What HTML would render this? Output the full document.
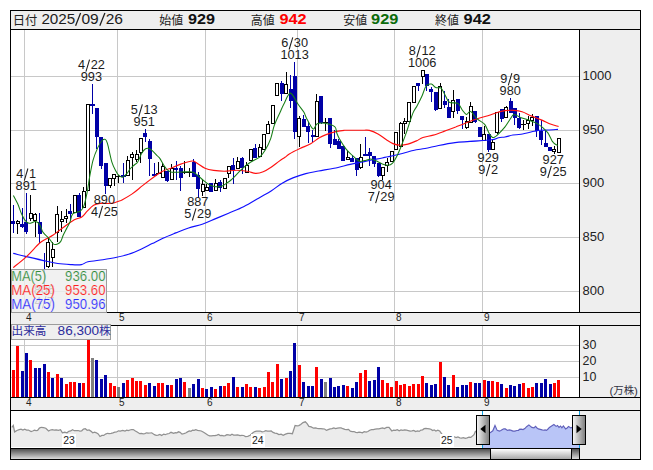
<!DOCTYPE html>
<html><head><meta charset="utf-8"><title>chart</title>
<style>html,body{margin:0;padding:0;background:#fff;}svg{display:block}text{font-family:"Liberation Sans", sans-serif;}</style>
</head><body>
<svg width="653" height="470" viewBox="0 0 653 470" font-family='"Liberation Sans", sans-serif'>
<defs>
<linearGradient id="trk" x1="0" y1="0" x2="0" y2="1"><stop offset="0" stop-color="#505050"/><stop offset="1" stop-color="#dcdcdc"/></linearGradient>
<linearGradient id="thm" x1="0" y1="0" x2="0" y2="1"><stop offset="0" stop-color="#ffffff"/><stop offset="1" stop-color="#a8a8a8"/></linearGradient>
<linearGradient id="hnd" x1="0" y1="0" x2="1" y2="0"><stop offset="0" stop-color="#f4f4f4"/><stop offset="1" stop-color="#808080"/></linearGradient>
<clipPath id="lg"><rect x="12" y="270" width="94" height="42"/></clipPath>
<clipPath id="cm"><rect x="11" y="30" width="568" height="282"/></clipPath>
</defs>
<g shape-rendering="crispEdges">
<rect x="0" y="0" width="653" height="470" fill="#fff" />
<rect x="10" y="10" width="631" height="450" fill="#000" />
<rect x="11" y="11" width="629" height="448" fill="#eeeeee" />
<rect x="10" y="29" width="631" height="1" fill="#000" />
<rect x="11" y="30" width="568" height="282" fill="#fff" />
<rect x="579" y="29" width="1" height="284" fill="#000" />
<rect x="10" y="312" width="631" height="1" fill="#000" />
<rect x="10" y="325" width="631" height="1" fill="#000" />
<rect x="11" y="326" width="568" height="71" fill="#fff" />
<rect x="579" y="325" width="1" height="73" fill="#000" />
<rect x="10" y="397" width="631" height="1" fill="#000" />
<rect x="10" y="410" width="631" height="1" fill="#000" />
<rect x="11" y="411" width="568" height="37" fill="#fff" />
<rect x="24" y="30" width="1" height="282" fill="#c8c8c8" />
<rect x="24" y="326" width="1" height="71" fill="#c8c8c8" />
<rect x="117" y="30" width="1" height="282" fill="#c8c8c8" />
<rect x="117" y="326" width="1" height="71" fill="#c8c8c8" />
<rect x="205" y="30" width="1" height="282" fill="#c8c8c8" />
<rect x="205" y="326" width="1" height="71" fill="#c8c8c8" />
<rect x="297" y="30" width="1" height="282" fill="#c8c8c8" />
<rect x="297" y="326" width="1" height="71" fill="#c8c8c8" />
<rect x="394" y="30" width="1" height="282" fill="#c8c8c8" />
<rect x="394" y="326" width="1" height="71" fill="#c8c8c8" />
<rect x="482" y="30" width="1" height="282" fill="#c8c8c8" />
<rect x="482" y="326" width="1" height="71" fill="#c8c8c8" />
<rect x="11" y="76" width="568" height="1" fill="#c8c8c8" />
<rect x="11" y="130" width="568" height="1" fill="#c8c8c8" />
<rect x="11" y="183" width="568" height="1" fill="#c8c8c8" />
<rect x="11" y="237" width="568" height="1" fill="#c8c8c8" />
<rect x="11" y="291" width="568" height="1" fill="#c8c8c8" />
<rect x="11" y="345" width="568" height="1" fill="#c8c8c8" />
<rect x="11" y="361" width="568" height="1" fill="#c8c8c8" />
<rect x="11" y="377" width="568" height="1" fill="#c8c8c8" />
</g>
<g shape-rendering="crispEdges" clip-path="url(#cm)">
<rect x="13" y="205" width="1" height="28" fill="#0000a6" />
<rect x="11" y="221" width="4" height="3" fill="#0000a6" />
<rect x="17" y="220" width="1" height="1" fill="#000" />
<rect x="17" y="224" width="1" height="10" fill="#000" />
<rect x="16" y="221" width="4" height="3" fill="#000" />
<rect x="17" y="222" width="2" height="1" fill="#fff" />
<rect x="22" y="208" width="1" height="20" fill="#0000a6" />
<rect x="20" y="224" width="4" height="3" fill="#0000a6" />
<rect x="26" y="193" width="1" height="41" fill="#0000a6" />
<rect x="24" y="222" width="4" height="10" fill="#0000a6" />
<rect x="30" y="195" width="1" height="18" fill="#000" />
<rect x="30" y="219" width="1" height="2" fill="#000" />
<rect x="29" y="213" width="4" height="6" fill="#000" />
<rect x="30" y="214" width="2" height="4" fill="#fff" />
<rect x="35" y="213" width="1" height="1" fill="#000" />
<rect x="35" y="221" width="1" height="16" fill="#000" />
<rect x="33" y="214" width="4" height="7" fill="#000" />
<rect x="34" y="215" width="2" height="5" fill="#fff" />
<rect x="39" y="213" width="1" height="30" fill="#0000a6" />
<rect x="38" y="222" width="4" height="12" fill="#0000a6" />
<rect x="44" y="253" width="1" height="31" fill="#0000a6" />
<rect x="42" y="272" width="4" height="11" fill="#0000a6" />
<rect x="48" y="238" width="1" height="4" fill="#000" />
<rect x="48" y="267" width="1" height="1" fill="#000" />
<rect x="46" y="242" width="4" height="25" fill="#000" />
<rect x="47" y="243" width="2" height="23" fill="#fff" />
<rect x="52" y="242" width="1" height="7" fill="#000" />
<rect x="52" y="258" width="1" height="9" fill="#000" />
<rect x="51" y="249" width="4" height="9" fill="#000" />
<rect x="52" y="250" width="2" height="7" fill="#fff" />
<rect x="57" y="206" width="1" height="8" fill="#000" />
<rect x="57" y="233" width="1" height="9" fill="#000" />
<rect x="55" y="214" width="4" height="19" fill="#000" />
<rect x="56" y="215" width="2" height="17" fill="#fff" />
<rect x="61" y="211" width="1" height="8" fill="#000" />
<rect x="61" y="222" width="1" height="10" fill="#000" />
<rect x="60" y="219" width="4" height="3" fill="#000" />
<rect x="61" y="220" width="2" height="1" fill="#fff" />
<rect x="66" y="209" width="1" height="7" fill="#000" />
<rect x="66" y="219" width="1" height="4" fill="#000" />
<rect x="64" y="216" width="4" height="3" fill="#000" />
<rect x="65" y="217" width="2" height="1" fill="#fff" />
<rect x="70" y="204" width="1" height="16" fill="#0000a6" />
<rect x="68" y="211" width="4" height="3" fill="#0000a6" />
<rect x="73" y="195" width="4" height="18" fill="#000" />
<rect x="74" y="196" width="2" height="16" fill="#fff" />
<rect x="79" y="193" width="1" height="24" fill="#0000a6" />
<rect x="77" y="195" width="4" height="22" fill="#0000a6" />
<rect x="83" y="187" width="1" height="4" fill="#000" />
<rect x="82" y="191" width="4" height="17" fill="#000" />
<rect x="83" y="192" width="2" height="15" fill="#fff" />
<rect x="86" y="104" width="4" height="87" fill="#000" />
<rect x="87" y="105" width="2" height="85" fill="#fff" />
<rect x="92" y="84" width="1" height="30" fill="#0000a6" />
<rect x="90" y="104" width="5" height="2" fill="#0000a6" />
<rect x="96" y="108" width="1" height="41" fill="#0000a6" />
<rect x="95" y="108" width="4" height="29" fill="#0000a6" />
<rect x="101" y="137" width="1" height="32" fill="#0000a6" />
<rect x="99" y="137" width="4" height="29" fill="#0000a6" />
<rect x="105" y="163" width="1" height="31" fill="#0000a6" />
<rect x="104" y="163" width="4" height="23" fill="#0000a6" />
<rect x="110" y="186" width="1" height="2" fill="#000" />
<rect x="108" y="178" width="4" height="8" fill="#000" />
<rect x="109" y="179" width="2" height="6" fill="#fff" />
<rect x="114" y="179" width="1" height="7" fill="#000" />
<rect x="112" y="174" width="4" height="5" fill="#000" />
<rect x="113" y="175" width="2" height="3" fill="#fff" />
<rect x="118" y="175" width="1" height="8" fill="#000" />
<rect x="116" y="176" width="5" height="1" fill="#000" />
<rect x="123" y="163" width="1" height="20" fill="#0000a6" />
<rect x="121" y="175" width="5" height="2" fill="#0000a6" />
<rect x="127" y="156" width="1" height="4" fill="#000" />
<rect x="126" y="160" width="4" height="16" fill="#000" />
<rect x="127" y="161" width="2" height="14" fill="#fff" />
<rect x="132" y="152" width="1" height="2" fill="#000" />
<rect x="132" y="158" width="1" height="22" fill="#000" />
<rect x="130" y="154" width="4" height="4" fill="#000" />
<rect x="131" y="155" width="2" height="2" fill="#fff" />
<rect x="136" y="150" width="1" height="4" fill="#000" />
<rect x="136" y="160" width="1" height="2" fill="#000" />
<rect x="135" y="154" width="4" height="6" fill="#000" />
<rect x="136" y="155" width="2" height="4" fill="#fff" />
<rect x="140" y="153" width="1" height="10" fill="#000" />
<rect x="139" y="138" width="4" height="15" fill="#000" />
<rect x="140" y="139" width="2" height="13" fill="#fff" />
<rect x="145" y="129" width="1" height="13" fill="#0000a6" />
<rect x="143" y="133" width="4" height="4" fill="#0000a6" />
<rect x="149" y="139" width="1" height="37" fill="#0000a6" />
<rect x="148" y="141" width="4" height="18" fill="#0000a6" />
<rect x="154" y="163" width="1" height="14" fill="#0000a6" />
<rect x="152" y="174" width="5" height="2" fill="#0000a6" />
<rect x="158" y="162" width="1" height="12" fill="#000" />
<rect x="156" y="173" width="5" height="1" fill="#000" />
<rect x="162" y="163" width="1" height="3" fill="#000" />
<rect x="161" y="166" width="4" height="12" fill="#000" />
<rect x="162" y="167" width="2" height="10" fill="#fff" />
<rect x="167" y="171" width="1" height="11" fill="#0000a6" />
<rect x="165" y="171" width="4" height="10" fill="#0000a6" />
<rect x="171" y="164" width="1" height="4" fill="#000" />
<rect x="170" y="168" width="4" height="12" fill="#000" />
<rect x="171" y="169" width="2" height="10" fill="#fff" />
<rect x="176" y="161" width="1" height="19" fill="#0000a6" />
<rect x="174" y="168" width="4" height="2" fill="#0000a6" />
<rect x="180" y="166" width="1" height="25" fill="#0000a6" />
<rect x="179" y="168" width="4" height="10" fill="#0000a6" />
<rect x="184" y="161" width="1" height="13" fill="#000" />
<rect x="182" y="172" width="5" height="1" fill="#000" />
<rect x="189" y="168" width="1" height="9" fill="#000" />
<rect x="187" y="172" width="5" height="1" fill="#000" />
<rect x="193" y="159" width="1" height="18" fill="#0000a6" />
<rect x="192" y="162" width="4" height="15" fill="#0000a6" />
<rect x="198" y="172" width="1" height="26" fill="#0000a6" />
<rect x="196" y="175" width="4" height="14" fill="#0000a6" />
<rect x="202" y="179" width="1" height="5" fill="#000" />
<rect x="202" y="192" width="1" height="4" fill="#000" />
<rect x="201" y="184" width="4" height="8" fill="#000" />
<rect x="202" y="185" width="2" height="6" fill="#fff" />
<rect x="206" y="184" width="1" height="3" fill="#000" />
<rect x="205" y="187" width="4" height="4" fill="#000" />
<rect x="206" y="188" width="2" height="2" fill="#fff" />
<rect x="211" y="183" width="1" height="9" fill="#0000a6" />
<rect x="209" y="183" width="4" height="9" fill="#0000a6" />
<rect x="215" y="179" width="1" height="4" fill="#000" />
<rect x="214" y="183" width="4" height="8" fill="#000" />
<rect x="215" y="184" width="2" height="6" fill="#fff" />
<rect x="220" y="180" width="1" height="12" fill="#0000a6" />
<rect x="218" y="182" width="4" height="6" fill="#0000a6" />
<rect x="223" y="178" width="4" height="11" fill="#000" />
<rect x="224" y="179" width="2" height="9" fill="#fff" />
<rect x="228" y="174" width="1" height="4" fill="#000" />
<rect x="227" y="166" width="4" height="8" fill="#000" />
<rect x="228" y="167" width="2" height="6" fill="#fff" />
<rect x="233" y="158" width="1" height="26" fill="#0000a6" />
<rect x="231" y="165" width="4" height="5" fill="#0000a6" />
<rect x="237" y="157" width="1" height="4" fill="#000" />
<rect x="236" y="161" width="4" height="8" fill="#000" />
<rect x="237" y="162" width="2" height="6" fill="#fff" />
<rect x="242" y="157" width="1" height="17" fill="#0000a6" />
<rect x="240" y="158" width="4" height="10" fill="#0000a6" />
<rect x="246" y="162" width="1" height="3" fill="#000" />
<rect x="245" y="165" width="4" height="8" fill="#000" />
<rect x="246" y="166" width="2" height="6" fill="#fff" />
<rect x="249" y="149" width="4" height="12" fill="#000" />
<rect x="250" y="150" width="2" height="10" fill="#fff" />
<rect x="255" y="144" width="1" height="14" fill="#0000a6" />
<rect x="253" y="148" width="4" height="10" fill="#0000a6" />
<rect x="259" y="144" width="1" height="3" fill="#000" />
<rect x="258" y="147" width="4" height="10" fill="#000" />
<rect x="259" y="148" width="2" height="8" fill="#fff" />
<rect x="262" y="134" width="4" height="16" fill="#000" />
<rect x="263" y="135" width="2" height="14" fill="#fff" />
<rect x="268" y="121" width="1" height="3" fill="#000" />
<rect x="266" y="124" width="4" height="10" fill="#000" />
<rect x="267" y="125" width="2" height="8" fill="#fff" />
<rect x="271" y="105" width="4" height="19" fill="#000" />
<rect x="272" y="106" width="2" height="17" fill="#fff" />
<rect x="275" y="83" width="4" height="13" fill="#000" />
<rect x="276" y="84" width="2" height="11" fill="#fff" />
<rect x="281" y="81" width="1" height="20" fill="#0000a6" />
<rect x="280" y="83" width="4" height="11" fill="#0000a6" />
<rect x="286" y="72" width="1" height="12" fill="#000" />
<rect x="284" y="84" width="4" height="10" fill="#000" />
<rect x="285" y="85" width="2" height="8" fill="#fff" />
<rect x="290" y="75" width="1" height="33" fill="#0000a6" />
<rect x="289" y="89" width="4" height="12" fill="#0000a6" />
<rect x="294" y="62" width="1" height="77" fill="#0000a6" />
<rect x="293" y="76" width="4" height="56" fill="#0000a6" />
<rect x="299" y="116" width="1" height="2" fill="#000" />
<rect x="299" y="137" width="1" height="10" fill="#000" />
<rect x="297" y="118" width="4" height="19" fill="#000" />
<rect x="298" y="119" width="2" height="17" fill="#fff" />
<rect x="303" y="115" width="1" height="12" fill="#0000a6" />
<rect x="302" y="119" width="4" height="8" fill="#0000a6" />
<rect x="308" y="122" width="1" height="21" fill="#0000a6" />
<rect x="306" y="126" width="4" height="6" fill="#0000a6" />
<rect x="312" y="130" width="1" height="12" fill="#0000a6" />
<rect x="311" y="135" width="4" height="2" fill="#0000a6" />
<rect x="316" y="94" width="1" height="7" fill="#000" />
<rect x="315" y="101" width="4" height="36" fill="#000" />
<rect x="316" y="102" width="2" height="34" fill="#fff" />
<rect x="321" y="96" width="1" height="28" fill="#0000a6" />
<rect x="319" y="96" width="4" height="27" fill="#0000a6" />
<rect x="325" y="118" width="1" height="13" fill="#000" />
<rect x="323" y="122" width="5" height="1" fill="#000" />
<rect x="330" y="118" width="1" height="30" fill="#0000a6" />
<rect x="328" y="118" width="4" height="26" fill="#0000a6" />
<rect x="334" y="130" width="1" height="15" fill="#0000a6" />
<rect x="333" y="139" width="4" height="6" fill="#0000a6" />
<rect x="338" y="139" width="1" height="10" fill="#0000a6" />
<rect x="337" y="141" width="4" height="8" fill="#0000a6" />
<rect x="343" y="146" width="1" height="15" fill="#0000a6" />
<rect x="341" y="146" width="4" height="15" fill="#0000a6" />
<rect x="347" y="151" width="1" height="6" fill="#000" />
<rect x="346" y="157" width="4" height="3" fill="#000" />
<rect x="347" y="158" width="2" height="1" fill="#fff" />
<rect x="352" y="155" width="1" height="7" fill="#0000a6" />
<rect x="350" y="158" width="4" height="4" fill="#0000a6" />
<rect x="356" y="158" width="1" height="18" fill="#0000a6" />
<rect x="355" y="158" width="4" height="12" fill="#0000a6" />
<rect x="360" y="144" width="1" height="13" fill="#000" />
<rect x="360" y="168" width="1" height="1" fill="#000" />
<rect x="359" y="157" width="4" height="11" fill="#000" />
<rect x="360" y="158" width="2" height="9" fill="#fff" />
<rect x="365" y="137" width="1" height="18" fill="#0000a6" />
<rect x="363" y="154" width="5" height="2" fill="#0000a6" />
<rect x="369" y="148" width="1" height="18" fill="#0000a6" />
<rect x="368" y="152" width="4" height="4" fill="#0000a6" />
<rect x="374" y="156" width="1" height="11" fill="#0000a6" />
<rect x="372" y="156" width="4" height="8" fill="#0000a6" />
<rect x="378" y="163" width="1" height="14" fill="#0000a6" />
<rect x="377" y="163" width="4" height="13" fill="#0000a6" />
<rect x="382" y="176" width="1" height="4" fill="#000" />
<rect x="381" y="167" width="4" height="9" fill="#000" />
<rect x="382" y="168" width="2" height="7" fill="#fff" />
<rect x="387" y="158" width="1" height="4" fill="#000" />
<rect x="387" y="166" width="1" height="6" fill="#000" />
<rect x="385" y="162" width="4" height="4" fill="#000" />
<rect x="386" y="163" width="2" height="2" fill="#fff" />
<rect x="390" y="151" width="4" height="11" fill="#000" />
<rect x="391" y="152" width="2" height="9" fill="#fff" />
<rect x="394" y="132" width="4" height="18" fill="#000" />
<rect x="395" y="133" width="2" height="16" fill="#fff" />
<rect x="400" y="122" width="1" height="1" fill="#000" />
<rect x="399" y="123" width="4" height="24" fill="#000" />
<rect x="400" y="124" width="2" height="22" fill="#fff" />
<rect x="404" y="118" width="1" height="3" fill="#000" />
<rect x="404" y="124" width="1" height="10" fill="#000" />
<rect x="403" y="121" width="4" height="3" fill="#000" />
<rect x="404" y="122" width="2" height="1" fill="#fff" />
<rect x="407" y="102" width="4" height="20" fill="#000" />
<rect x="408" y="103" width="2" height="18" fill="#fff" />
<rect x="412" y="86" width="4" height="17" fill="#000" />
<rect x="413" y="87" width="2" height="15" fill="#fff" />
<rect x="418" y="83" width="1" height="8" fill="#0000a6" />
<rect x="416" y="83" width="4" height="3" fill="#0000a6" />
<rect x="422" y="77" width="1" height="7" fill="#000" />
<rect x="421" y="70" width="4" height="7" fill="#000" />
<rect x="422" y="71" width="2" height="5" fill="#fff" />
<rect x="426" y="74" width="1" height="17" fill="#0000a6" />
<rect x="425" y="74" width="4" height="12" fill="#0000a6" />
<rect x="431" y="87" width="1" height="15" fill="#0000a6" />
<rect x="429" y="89" width="4" height="3" fill="#0000a6" />
<rect x="435" y="92" width="1" height="19" fill="#0000a6" />
<rect x="434" y="92" width="4" height="18" fill="#0000a6" />
<rect x="440" y="83" width="1" height="3" fill="#000" />
<rect x="438" y="86" width="4" height="23" fill="#000" />
<rect x="439" y="87" width="2" height="21" fill="#fff" />
<rect x="444" y="91" width="1" height="17" fill="#0000a6" />
<rect x="443" y="101" width="4" height="4" fill="#0000a6" />
<rect x="448" y="99" width="1" height="19" fill="#0000a6" />
<rect x="447" y="107" width="4" height="11" fill="#0000a6" />
<rect x="453" y="90" width="1" height="10" fill="#000" />
<rect x="453" y="112" width="1" height="6" fill="#000" />
<rect x="451" y="100" width="4" height="12" fill="#000" />
<rect x="452" y="101" width="2" height="10" fill="#fff" />
<rect x="457" y="99" width="1" height="15" fill="#0000a6" />
<rect x="456" y="99" width="4" height="12" fill="#0000a6" />
<rect x="462" y="116" width="1" height="13" fill="#0000a6" />
<rect x="460" y="116" width="4" height="4" fill="#0000a6" />
<rect x="466" y="117" width="1" height="4" fill="#000" />
<rect x="466" y="128" width="1" height="1" fill="#000" />
<rect x="465" y="121" width="4" height="7" fill="#000" />
<rect x="466" y="122" width="2" height="5" fill="#fff" />
<rect x="470" y="102" width="1" height="4" fill="#000" />
<rect x="469" y="106" width="4" height="17" fill="#000" />
<rect x="470" y="107" width="2" height="15" fill="#fff" />
<rect x="475" y="111" width="1" height="12" fill="#0000a6" />
<rect x="473" y="111" width="4" height="11" fill="#0000a6" />
<rect x="479" y="127" width="1" height="10" fill="#0000a6" />
<rect x="478" y="127" width="4" height="10" fill="#0000a6" />
<rect x="484" y="126" width="1" height="8" fill="#000" />
<rect x="482" y="134" width="4" height="7" fill="#000" />
<rect x="483" y="135" width="2" height="5" fill="#fff" />
<rect x="488" y="134" width="1" height="18" fill="#0000a6" />
<rect x="487" y="134" width="4" height="16" fill="#0000a6" />
<rect x="492" y="140" width="1" height="2" fill="#000" />
<rect x="491" y="142" width="4" height="8" fill="#000" />
<rect x="492" y="143" width="2" height="6" fill="#fff" />
<rect x="497" y="133" width="1" height="1" fill="#000" />
<rect x="495" y="112" width="4" height="21" fill="#000" />
<rect x="496" y="113" width="2" height="19" fill="#fff" />
<rect x="501" y="109" width="1" height="13" fill="#0000a6" />
<rect x="500" y="109" width="4" height="10" fill="#0000a6" />
<rect x="506" y="106" width="1" height="1" fill="#000" />
<rect x="504" y="107" width="4" height="11" fill="#000" />
<rect x="505" y="108" width="2" height="9" fill="#fff" />
<rect x="510" y="98" width="1" height="15" fill="#0000a6" />
<rect x="509" y="101" width="4" height="12" fill="#0000a6" />
<rect x="514" y="108" width="1" height="17" fill="#0000a6" />
<rect x="513" y="108" width="4" height="10" fill="#0000a6" />
<rect x="519" y="113" width="1" height="16" fill="#0000a6" />
<rect x="517" y="118" width="4" height="10" fill="#0000a6" />
<rect x="523" y="120" width="1" height="10" fill="#000" />
<rect x="521" y="124" width="5" height="1" fill="#000" />
<rect x="528" y="116" width="1" height="4" fill="#000" />
<rect x="528" y="124" width="1" height="5" fill="#000" />
<rect x="526" y="120" width="4" height="4" fill="#000" />
<rect x="527" y="121" width="2" height="2" fill="#fff" />
<rect x="532" y="114" width="1" height="3" fill="#000" />
<rect x="532" y="121" width="1" height="5" fill="#000" />
<rect x="530" y="117" width="4" height="4" fill="#000" />
<rect x="531" y="118" width="2" height="2" fill="#fff" />
<rect x="536" y="116" width="1" height="21" fill="#0000a6" />
<rect x="535" y="116" width="4" height="15" fill="#0000a6" />
<rect x="541" y="120" width="1" height="25" fill="#0000a6" />
<rect x="539" y="131" width="4" height="9" fill="#0000a6" />
<rect x="545" y="131" width="1" height="16" fill="#0000a6" />
<rect x="544" y="143" width="4" height="4" fill="#0000a6" />
<rect x="550" y="147" width="1" height="4" fill="#0000a6" />
<rect x="548" y="147" width="4" height="4" fill="#0000a6" />
<rect x="554" y="146" width="1" height="3" fill="#000" />
<rect x="554" y="152" width="1" height="2" fill="#000" />
<rect x="552" y="149" width="4" height="3" fill="#000" />
<rect x="553" y="150" width="2" height="1" fill="#fff" />
<rect x="557" y="138" width="4" height="15" fill="#000" />
<rect x="558" y="139" width="2" height="13" fill="#fff" />
</g>
<g fill="none" stroke-width="1.15" stroke-linejoin="round" clip-path="url(#cm)">
<path d="M13.2,253.4C15.4,253.9 20.9,255.3 26.5,256.6C32.1,257.9 41.6,260.1 46.8,261.2C52.0,262.3 53.8,262.9 57.8,263.5C61.8,264.1 66.8,264.4 70.7,264.6C74.6,264.8 78.5,265.1 81.4,264.6C84.3,264.1 84.3,262.6 87.9,261.8C91.5,261.0 98.3,260.4 102.9,259.7C107.5,259.0 111.4,258.4 115.7,257.5C120.0,256.6 124.3,255.7 128.6,254.3C132.9,252.9 137.6,250.8 141.5,249.0C145.4,247.2 148.6,245.4 152.2,243.6C155.8,241.8 159.0,240.0 162.9,238.2C166.8,236.4 171.5,234.6 175.8,232.9C180.1,231.2 184.1,229.5 188.6,228.0C193.1,226.5 198.4,225.6 202.9,224.0C207.4,222.4 211.4,220.4 215.7,218.6C220.0,216.8 223.9,215.2 228.6,213.2C233.2,211.2 238.6,209.3 243.6,206.8C248.6,204.3 254.0,200.9 258.6,198.2C263.2,195.5 267.6,193.2 271.5,190.7C275.4,188.2 278.6,185.3 282.2,183.2C285.8,181.1 289.0,179.5 292.9,177.9C296.8,176.3 301.5,174.8 305.8,173.6C310.1,172.4 313.9,171.9 318.6,171.0C323.3,170.1 328.8,169.3 334.1,168.2C339.4,167.1 345.7,165.4 350.2,164.4C354.7,163.4 357.3,163.0 360.9,162.3C364.5,161.6 368.0,160.7 371.6,160.0C375.2,159.3 379.6,158.6 382.3,158.0C385.0,157.4 385.5,157.2 388.0,156.7C390.5,156.2 393.0,155.8 397.2,154.8C401.4,153.8 408.6,151.6 413.2,150.5C417.8,149.4 420.8,149.3 425.0,148.5C429.2,147.7 433.6,146.5 438.6,145.5C443.6,144.5 449.8,143.3 455.0,142.6C460.2,141.9 463.9,141.9 470.0,141.4C476.1,140.9 486.6,140.4 491.4,139.8C496.2,139.2 496.3,138.2 498.6,137.7C500.9,137.2 502.6,137.4 505.0,137.0C507.4,136.6 510.2,135.4 512.9,135.0C515.6,134.6 517.5,134.9 521.1,134.3C524.7,133.7 531.1,132.0 534.3,131.3C537.4,130.6 537.7,130.4 540.0,130.2C542.3,130.0 544.9,130.1 547.9,130.0C550.9,129.9 556.3,129.5 558.0,129.4" stroke="#1010ff"/>
<path d="M13.2,267.6C15.4,265.8 22.1,260.7 26.5,256.6C30.9,252.6 36.1,246.2 39.4,243.3C42.6,240.4 43.7,240.4 46.0,239.0C48.3,237.6 50.5,236.8 53.2,235.0C56.0,233.2 59.0,230.5 62.5,228.0C66.0,225.5 71.1,221.6 74.3,219.8C77.5,218.0 79.6,218.5 81.8,217.1C84.0,215.7 85.2,213.2 87.2,211.2C89.2,209.2 91.5,206.6 93.6,205.3C95.7,204.0 97.0,203.7 100.0,203.4C103.0,203.1 108.6,203.8 111.8,203.4C115.0,203.0 117.6,201.6 119.3,201.0C121.0,200.4 119.8,201.2 122.0,200.0C124.2,198.8 128.7,196.3 132.2,193.9C135.7,191.5 139.3,188.2 142.9,185.4C146.5,182.6 150.4,179.6 153.6,177.3C156.8,175.0 159.3,172.9 162.2,171.4C165.0,169.9 167.5,169.4 170.7,168.2C173.9,166.9 177.8,165.1 181.4,163.9C185.0,162.7 189.5,161.1 192.2,161.0C194.9,160.9 195.4,162.2 197.5,163.4C199.6,164.6 202.3,167.0 205.0,168.2C207.7,169.4 210.4,169.9 213.6,170.4C216.8,170.9 220.5,171.2 224.3,171.2C228.1,171.2 232.6,170.2 236.4,170.2C240.2,170.2 244.0,170.8 247.2,171.3C250.4,171.8 253.0,173.3 255.7,173.4C258.4,173.5 260.7,172.8 263.2,171.8C265.7,170.8 268.0,169.3 270.7,167.5C273.4,165.7 276.9,162.8 279.3,161.1C281.7,159.4 283.3,158.5 285.0,157.3C286.7,156.1 286.8,155.5 289.3,154.0C291.8,152.5 296.4,150.2 300.0,148.5C303.6,146.8 307.5,145.5 310.7,143.7C313.9,141.9 316.7,139.3 319.3,137.8C321.9,136.3 323.2,135.7 326.1,134.6C329.0,133.5 333.8,132.1 336.8,131.4C339.8,130.7 342.1,130.5 344.3,130.3C346.5,130.1 347.9,130.3 350.0,130.2C352.1,130.2 354.7,130.2 357.0,130.2C359.3,130.2 361.9,130.2 364.0,130.2C366.1,130.3 367.1,129.8 369.4,130.4C371.7,131.0 375.2,132.3 378.0,133.9C380.8,135.5 383.9,138.2 386.4,139.8C388.9,141.4 390.6,142.7 392.9,143.6C395.2,144.5 397.9,145.1 400.4,145.2C402.9,145.3 405.2,144.8 407.9,144.1C410.6,143.4 413.9,142.0 416.4,140.9C418.9,139.8 420.1,138.5 422.9,137.5C425.7,136.5 429.7,136.1 433.2,135.1C436.7,134.1 440.1,132.8 443.9,131.4C447.6,130.1 451.9,128.4 455.7,127.0C459.4,125.5 462.8,124.1 466.4,122.7C470.0,121.3 473.6,119.9 477.2,118.7C480.8,117.5 484.3,116.8 487.9,115.7C491.5,114.6 495.8,112.8 498.6,112.0C501.5,111.2 502.5,110.9 505.0,110.6C507.5,110.3 510.8,110.2 513.6,110.4C516.5,110.6 519.1,110.8 522.1,111.8C525.1,112.8 528.4,114.7 531.8,116.1C535.2,117.5 539.3,119.1 542.5,120.4C545.7,121.8 548.4,123.2 551.1,124.2C553.8,125.2 557.4,126.1 558.6,126.5" stroke="#ff1010"/>
<path d="M13.4,195.4C14.1,196.8 16.3,200.8 17.7,203.8C19.1,206.9 20.2,210.9 21.5,213.7C22.8,216.5 24.0,219.0 25.3,220.6C26.6,222.2 27.8,223.0 29.1,223.3C30.4,223.6 31.9,222.5 33.0,222.2C34.1,221.9 34.6,221.1 35.7,221.4C36.8,221.7 38.2,222.3 39.4,224.1C40.6,225.9 41.6,230.1 43.1,232.4C44.6,234.7 46.9,236.0 48.6,237.9C50.3,239.8 51.8,242.8 53.2,243.9C54.6,245.0 55.7,244.7 56.9,244.3C58.1,243.9 59.5,243.1 60.6,241.6C61.7,240.1 62.2,237.4 63.3,235.1C64.4,232.8 65.9,230.0 67.0,227.8C68.1,225.6 69.0,224.3 70.0,222.0C71.0,219.7 71.0,215.7 72.7,213.9C74.4,212.1 78.3,212.5 80.2,211.2C82.1,209.9 82.7,209.1 83.9,205.9C85.1,202.7 86.2,197.0 87.2,192.0C88.2,187.0 88.8,181.3 89.8,176.0C90.8,170.7 91.7,165.1 93.0,160.3C94.3,155.5 96.4,150.7 97.9,147.4C99.4,144.1 101.0,141.8 102.2,140.5C103.5,139.2 104.5,138.9 105.4,139.4C106.3,139.9 106.4,140.0 107.5,143.7C108.6,147.4 110.4,157.2 111.8,161.8C113.2,166.4 114.9,169.1 116.1,171.4C117.3,173.7 117.9,174.5 119.0,175.5C120.1,176.5 121.2,177.6 122.5,177.3C123.8,177.0 125.5,175.0 126.8,173.6C128.1,172.2 128.8,170.4 130.0,169.0C131.2,167.6 133.0,166.2 134.3,165.0C135.6,163.8 136.5,163.9 137.7,162.0C138.9,160.1 140.2,156.0 141.4,153.8C142.7,151.6 143.9,149.9 145.2,149.0C146.4,148.1 147.7,148.1 148.9,148.4C150.1,148.7 150.8,149.3 152.2,150.6C153.6,151.9 156.2,154.7 157.5,156.0C158.8,157.3 158.7,156.7 160.0,158.6C161.3,160.5 163.6,165.5 165.4,167.7C167.2,169.9 168.0,171.3 170.7,172.0C173.4,172.7 177.8,172.0 181.4,172.0C185.0,172.0 189.5,171.5 192.2,172.0C194.9,172.5 195.7,173.9 197.5,175.2C199.3,176.5 200.9,178.4 202.9,180.0C204.9,181.6 207.2,183.7 209.3,184.8C211.4,185.9 213.5,186.5 215.7,186.7C217.8,186.9 220.4,186.5 222.2,185.9C224.0,185.3 225.0,184.2 226.5,183.2C228.0,182.2 228.4,182.3 231.0,180.0C233.6,177.7 238.6,172.1 241.8,169.1C245.0,166.1 247.4,164.2 250.4,162.2C253.4,160.1 257.5,158.9 260.0,156.8C262.5,154.7 263.6,152.8 265.4,149.8C267.2,146.8 269.2,142.7 270.7,138.6C272.2,134.5 272.7,129.8 274.3,125.4C275.9,121.0 278.6,115.6 280.2,112.0C281.8,108.4 282.2,107.2 283.9,104.0C285.6,100.8 288.1,93.1 290.4,93.1C292.7,93.1 295.7,100.8 297.9,104.0C300.1,107.2 302.4,109.7 303.8,112.0C305.2,114.3 304.9,115.1 306.4,117.9C307.9,120.7 311.1,127.9 312.9,128.9C314.7,129.9 315.2,124.7 317.2,123.8C319.2,122.9 322.1,122.8 325.0,123.3C327.9,123.8 332.7,125.0 334.7,126.6C336.7,128.2 336.0,131.0 336.8,133.0C337.6,135.0 337.9,136.0 339.4,138.7C340.9,141.3 343.8,146.1 345.9,148.9C348.0,151.7 350.3,153.4 352.3,155.3C354.3,157.2 356.3,159.2 357.7,160.2C359.1,161.2 359.5,161.4 360.9,161.4C362.3,161.4 364.6,160.6 366.2,160.2C367.8,159.8 368.9,159.0 370.5,159.1C372.1,159.2 373.9,159.9 375.9,160.7C377.9,161.5 380.3,163.2 382.3,163.9C384.3,164.7 386.3,165.3 388.0,165.2C389.7,165.1 390.8,165.0 392.3,163.4C393.8,161.8 395.7,158.4 397.2,155.4C398.7,152.4 399.9,149.5 401.4,145.7C402.9,141.9 404.5,137.8 406.4,132.4C408.3,127.0 411.1,117.5 412.9,113.1C414.7,108.7 415.5,108.8 417.0,106.0C418.5,103.2 420.5,99.3 422.0,96.0C423.5,92.7 424.5,88.0 426.1,86.0C427.7,84.0 429.8,83.8 431.4,84.1C433.0,84.4 434.1,86.9 435.7,87.6C437.3,88.3 439.5,86.8 441.1,88.2C442.7,89.6 444.0,93.4 445.4,95.7C446.8,98.0 447.2,101.0 449.3,102.3C451.4,103.6 455.8,102.2 457.9,103.4C460.0,104.7 460.7,108.0 462.1,109.8C463.5,111.6 465.0,114.1 466.4,114.4C467.8,114.7 468.9,110.7 470.7,111.4C472.5,112.2 474.9,116.8 477.2,118.9C479.5,121.1 482.8,122.0 484.7,124.3C486.6,126.6 487.6,130.8 488.9,132.9C490.1,135.1 491.2,136.5 492.2,137.2C493.2,137.9 493.6,137.6 494.7,137.1C495.8,136.6 496.9,135.6 498.6,133.9C500.3,132.2 503.0,129.4 505.0,126.9C507.0,124.4 508.9,120.9 510.4,118.8C511.9,116.7 512.3,114.7 514.1,114.5C515.9,114.3 518.5,116.7 521.1,117.7C523.7,118.7 527.0,119.4 529.7,120.4C532.4,121.4 535.1,122.4 537.2,123.6C539.3,124.8 540.7,125.9 542.5,127.4C544.3,129.0 546.3,130.6 547.9,132.9C549.5,135.2 551.0,139.2 552.2,141.1C553.5,143.0 554.4,143.6 555.4,144.3C556.4,145.0 557.6,145.2 558.0,145.4" stroke="#157d15" stroke-width="1.05"/>
</g>
<text x="16.3" y="178.3" font-size="12.4" fill="#1c1c1c" text-anchor="start" font-weight="normal" textLength="7.1" lengthAdjust="spacingAndGlyphs">4</text>
<line x1="24.30" y1="180.60" x2="27.90" y2="168.50" stroke="#1c1c1c" stroke-width="1.05"/>
<text x="29" y="178.3" font-size="12.4" fill="#1c1c1c" text-anchor="start" font-weight="normal" textLength="7.1" lengthAdjust="spacingAndGlyphs">1</text>
<text x="26.2" y="189.8" font-size="12.4" fill="#1c1c1c" text-anchor="middle" font-weight="normal" textLength="21.3" lengthAdjust="spacingAndGlyphs">891</text>
<text x="77.95" y="69.4" font-size="12.4" fill="#1c1c1c" text-anchor="start" font-weight="normal" textLength="7.1" lengthAdjust="spacingAndGlyphs">4</text>
<line x1="85.95" y1="71.70" x2="89.55" y2="59.60" stroke="#1c1c1c" stroke-width="1.05"/>
<text x="90.65" y="69.4" font-size="12.4" fill="#1c1c1c" text-anchor="start" font-weight="normal" textLength="14.2" lengthAdjust="spacingAndGlyphs">22</text>
<text x="91.4" y="80.9" font-size="12.4" fill="#1c1c1c" text-anchor="middle" font-weight="normal" textLength="21.3" lengthAdjust="spacingAndGlyphs">993</text>
<text x="130.75" y="114.2" font-size="12.4" fill="#1c1c1c" text-anchor="start" font-weight="normal" textLength="7.1" lengthAdjust="spacingAndGlyphs">5</text>
<line x1="138.75" y1="116.50" x2="142.35" y2="104.40" stroke="#1c1c1c" stroke-width="1.05"/>
<text x="143.45" y="114.2" font-size="12.4" fill="#1c1c1c" text-anchor="start" font-weight="normal" textLength="14.2" lengthAdjust="spacingAndGlyphs">13</text>
<text x="144.2" y="125.7" font-size="12.4" fill="#1c1c1c" text-anchor="middle" font-weight="normal" textLength="21.3" lengthAdjust="spacingAndGlyphs">951</text>
<text x="281.15" y="47.2" font-size="12.4" fill="#1c1c1c" text-anchor="start" font-weight="normal" textLength="7.1" lengthAdjust="spacingAndGlyphs">6</text>
<line x1="289.15" y1="49.50" x2="292.75" y2="37.40" stroke="#1c1c1c" stroke-width="1.05"/>
<text x="293.85" y="47.2" font-size="12.4" fill="#1c1c1c" text-anchor="start" font-weight="normal" textLength="14.2" lengthAdjust="spacingAndGlyphs">30</text>
<text x="294.6" y="58.7" font-size="12.4" fill="#1c1c1c" text-anchor="middle" font-weight="normal" textLength="28.4" lengthAdjust="spacingAndGlyphs">1013</text>
<text x="408.75" y="55.2" font-size="12.4" fill="#1c1c1c" text-anchor="start" font-weight="normal" textLength="7.1" lengthAdjust="spacingAndGlyphs">8</text>
<line x1="416.75" y1="57.50" x2="420.35" y2="45.40" stroke="#1c1c1c" stroke-width="1.05"/>
<text x="421.45" y="55.2" font-size="12.4" fill="#1c1c1c" text-anchor="start" font-weight="normal" textLength="14.2" lengthAdjust="spacingAndGlyphs">12</text>
<text x="422.2" y="66.7" font-size="12.4" fill="#1c1c1c" text-anchor="middle" font-weight="normal" textLength="28.4" lengthAdjust="spacingAndGlyphs">1006</text>
<text x="500.3" y="83" font-size="12.4" fill="#1c1c1c" text-anchor="start" font-weight="normal" textLength="7.1" lengthAdjust="spacingAndGlyphs">9</text>
<line x1="508.30" y1="85.30" x2="511.90" y2="73.20" stroke="#1c1c1c" stroke-width="1.05"/>
<text x="513" y="83" font-size="12.4" fill="#1c1c1c" text-anchor="start" font-weight="normal" textLength="7.1" lengthAdjust="spacingAndGlyphs">9</text>
<text x="510.2" y="94.5" font-size="12.4" fill="#1c1c1c" text-anchor="middle" font-weight="normal" textLength="21.3" lengthAdjust="spacingAndGlyphs">980</text>
<text x="104.4" y="203.9" font-size="12.4" fill="#1c1c1c" text-anchor="middle" font-weight="normal" textLength="21.3" lengthAdjust="spacingAndGlyphs">890</text>
<text x="90.95" y="215.7" font-size="12.4" fill="#1c1c1c" text-anchor="start" font-weight="normal" textLength="7.1" lengthAdjust="spacingAndGlyphs">4</text>
<line x1="98.95" y1="218.00" x2="102.55" y2="205.90" stroke="#1c1c1c" stroke-width="1.05"/>
<text x="103.65" y="215.7" font-size="12.4" fill="#1c1c1c" text-anchor="start" font-weight="normal" textLength="14.2" lengthAdjust="spacingAndGlyphs">25</text>
<text x="197.8" y="206.4" font-size="12.4" fill="#1c1c1c" text-anchor="middle" font-weight="normal" textLength="21.3" lengthAdjust="spacingAndGlyphs">887</text>
<text x="184.35" y="218.2" font-size="12.4" fill="#1c1c1c" text-anchor="start" font-weight="normal" textLength="7.1" lengthAdjust="spacingAndGlyphs">5</text>
<line x1="192.35" y1="220.50" x2="195.95" y2="208.40" stroke="#1c1c1c" stroke-width="1.05"/>
<text x="197.05" y="218.2" font-size="12.4" fill="#1c1c1c" text-anchor="start" font-weight="normal" textLength="14.2" lengthAdjust="spacingAndGlyphs">29</text>
<text x="381.1" y="189" font-size="12.4" fill="#1c1c1c" text-anchor="middle" font-weight="normal" textLength="21.3" lengthAdjust="spacingAndGlyphs">904</text>
<text x="367.65" y="200.8" font-size="12.4" fill="#1c1c1c" text-anchor="start" font-weight="normal" textLength="7.1" lengthAdjust="spacingAndGlyphs">7</text>
<line x1="375.65" y1="203.10" x2="379.25" y2="191.00" stroke="#1c1c1c" stroke-width="1.05"/>
<text x="380.35" y="200.8" font-size="12.4" fill="#1c1c1c" text-anchor="start" font-weight="normal" textLength="14.2" lengthAdjust="spacingAndGlyphs">29</text>
<text x="488.2" y="162" font-size="12.4" fill="#1c1c1c" text-anchor="middle" font-weight="normal" textLength="21.3" lengthAdjust="spacingAndGlyphs">929</text>
<text x="478.3" y="173.8" font-size="12.4" fill="#1c1c1c" text-anchor="start" font-weight="normal" textLength="7.1" lengthAdjust="spacingAndGlyphs">9</text>
<line x1="486.30" y1="176.10" x2="489.90" y2="164.00" stroke="#1c1c1c" stroke-width="1.05"/>
<text x="491" y="173.8" font-size="12.4" fill="#1c1c1c" text-anchor="start" font-weight="normal" textLength="7.1" lengthAdjust="spacingAndGlyphs">2</text>
<text x="553.2" y="163.9" font-size="12.4" fill="#1c1c1c" text-anchor="middle" font-weight="normal" textLength="21.3" lengthAdjust="spacingAndGlyphs">927</text>
<text x="539.75" y="175.7" font-size="12.4" fill="#1c1c1c" text-anchor="start" font-weight="normal" textLength="7.1" lengthAdjust="spacingAndGlyphs">9</text>
<line x1="547.75" y1="178.00" x2="551.35" y2="165.90" stroke="#1c1c1c" stroke-width="1.05"/>
<text x="552.45" y="175.7" font-size="12.4" fill="#1c1c1c" text-anchor="start" font-weight="normal" textLength="14.2" lengthAdjust="spacingAndGlyphs">25</text>
<g shape-rendering="crispEdges">
<rect x="11" y="269" width="96" height="44" fill="#9c9c9c" />
<rect x="12" y="270" width="94" height="42" fill="#fff" />
</g>
<g clip-path="url(#lg)">
<g shape-rendering="crispEdges">
<rect x="24" y="270" width="1" height="42" fill="#c8c8c8" />
<rect x="12" y="291" width="94" height="1" fill="#c8c8c8" />
<rect x="44" y="270" width="1" height="15" fill="#0000a6" />
</g>
<text x="44.3" y="294.2" font-size="12.4" fill="#222" text-anchor="middle" font-weight="normal" textLength="21.3" lengthAdjust="spacingAndGlyphs">806</text>
<text x="34.4" y="306" font-size="12.4" fill="#1c1c1c" text-anchor="start" font-weight="normal" textLength="7.1" lengthAdjust="spacingAndGlyphs">4</text>
<line x1="42.40" y1="308.30" x2="46.00" y2="296.20" stroke="#1c1c1c" stroke-width="1.05"/>
<text x="47.1" y="306" font-size="12.4" fill="#1c1c1c" text-anchor="start" font-weight="normal" textLength="7.1" lengthAdjust="spacingAndGlyphs">7</text>
</g>
<g shape-rendering="crispEdges">
<rect x="12" y="270" width="94" height="42" fill="#eeeeee" fill-opacity="0.83"/>
</g>
<text x="11.3" y="280.6" font-size="14" fill="#2e8b3a" text-anchor="start" font-weight="normal" textLength="35" lengthAdjust="spacingAndGlyphs" stroke="#eeeeee" stroke-width="0.18">MA(5)</text>
<text x="65.1" y="280.6" font-size="14" fill="#2e8b3a" text-anchor="start" font-weight="normal" textLength="40.4" lengthAdjust="spacingAndGlyphs" stroke="#eeeeee" stroke-width="0.18">936.00</text>
<text x="11.3" y="294.8" font-size="14" fill="#ff2020" text-anchor="start" font-weight="normal" textLength="43.6" lengthAdjust="spacingAndGlyphs" stroke="#eeeeee" stroke-width="0.18">MA(25)</text>
<text x="65.1" y="294.8" font-size="14" fill="#ff2020" text-anchor="start" font-weight="normal" textLength="40.4" lengthAdjust="spacingAndGlyphs" stroke="#eeeeee" stroke-width="0.18">953.60</text>
<text x="11.3" y="309" font-size="14" fill="#2a2aff" text-anchor="start" font-weight="normal" textLength="43.6" lengthAdjust="spacingAndGlyphs" stroke="#eeeeee" stroke-width="0.18">MA(75)</text>
<text x="65.1" y="309" font-size="14" fill="#2a2aff" text-anchor="start" font-weight="normal" textLength="40.4" lengthAdjust="spacingAndGlyphs" stroke="#eeeeee" stroke-width="0.18">950.96</text>
<text x="25.9" y="321" font-size="10" fill="#222" text-anchor="start" font-weight="normal">4</text>
<text x="25.9" y="406" font-size="10" fill="#222" text-anchor="start" font-weight="normal">4</text>
<text x="118.9" y="321" font-size="10" fill="#222" text-anchor="start" font-weight="normal">5</text>
<text x="118.9" y="406" font-size="10" fill="#222" text-anchor="start" font-weight="normal">5</text>
<text x="206.9" y="321" font-size="10" fill="#222" text-anchor="start" font-weight="normal">6</text>
<text x="206.9" y="406" font-size="10" fill="#222" text-anchor="start" font-weight="normal">6</text>
<text x="298.9" y="321" font-size="10" fill="#222" text-anchor="start" font-weight="normal">7</text>
<text x="298.9" y="406" font-size="10" fill="#222" text-anchor="start" font-weight="normal">7</text>
<text x="395.9" y="321" font-size="10" fill="#222" text-anchor="start" font-weight="normal">8</text>
<text x="395.9" y="406" font-size="10" fill="#222" text-anchor="start" font-weight="normal">8</text>
<text x="483.9" y="321" font-size="10" fill="#222" text-anchor="start" font-weight="normal">9</text>
<text x="483.9" y="406" font-size="10" fill="#222" text-anchor="start" font-weight="normal">9</text>
<text x="582.5" y="80" font-size="12.6" fill="#222" text-anchor="start" font-weight="normal" textLength="28.88" lengthAdjust="spacingAndGlyphs">1000</text>
<text x="582.5" y="134" font-size="12.6" fill="#222" text-anchor="start" font-weight="normal" textLength="21.66" lengthAdjust="spacingAndGlyphs">950</text>
<text x="582.5" y="187" font-size="12.6" fill="#222" text-anchor="start" font-weight="normal" textLength="21.66" lengthAdjust="spacingAndGlyphs">900</text>
<text x="582.5" y="241" font-size="12.6" fill="#222" text-anchor="start" font-weight="normal" textLength="21.66" lengthAdjust="spacingAndGlyphs">850</text>
<text x="582.5" y="295" font-size="12.6" fill="#222" text-anchor="start" font-weight="normal" textLength="21.66" lengthAdjust="spacingAndGlyphs">800</text>
<text x="582.6" y="349" font-size="12.6" fill="#222" text-anchor="start" font-weight="normal" textLength="13.8" lengthAdjust="spacingAndGlyphs">30</text>
<text x="582.6" y="365" font-size="12.6" fill="#222" text-anchor="start" font-weight="normal" textLength="13.8" lengthAdjust="spacingAndGlyphs">20</text>
<text x="582.6" y="381" font-size="12.6" fill="#222" text-anchor="start" font-weight="normal" textLength="13.8" lengthAdjust="spacingAndGlyphs">10</text>
<text x="609.4" y="394.6" font-size="11.5" fill="#334" text-anchor="start" font-weight="normal">(</text>
<text x="613.3" y="394" font-size="10.4" fill="#334" text-anchor="start" font-weight="normal" textLength="20.8" lengthAdjust="spacingAndGlyphs" style='font-family:"Liberation Sans","Noto Sans CJK JP",sans-serif'>万株</text>
<text x="634" y="394.6" font-size="11.5" fill="#334" text-anchor="start" font-weight="normal">)</text>
<g shape-rendering="crispEdges">
<rect x="12" y="370" width="3" height="27" fill="#ff0000" />
<rect x="16" y="346" width="3" height="51" fill="#ff0000" />
<rect x="21" y="371" width="3" height="26" fill="#0000a6" />
<rect x="25" y="353" width="3" height="44" fill="#0000a6" />
<rect x="29" y="360" width="3" height="37" fill="#ff0000" />
<rect x="34" y="368" width="3" height="29" fill="#0000a6" />
<rect x="38" y="368" width="3" height="29" fill="#0000a6" />
<rect x="43" y="364" width="3" height="33" fill="#0000a6" />
<rect x="47" y="372" width="3" height="25" fill="#ff0000" />
<rect x="51" y="378" width="3" height="19" fill="#0000a6" />
<rect x="56" y="374" width="3" height="23" fill="#ff0000" />
<rect x="60" y="378" width="3" height="19" fill="#0000a6" />
<rect x="65" y="384" width="3" height="13" fill="#ff0000" />
<rect x="69" y="382" width="3" height="15" fill="#ff0000" />
<rect x="73" y="382" width="3" height="15" fill="#ff0000" />
<rect x="78" y="383" width="3" height="14" fill="#0000a6" />
<rect x="82" y="383" width="3" height="14" fill="#ff0000" />
<rect x="87" y="338" width="3" height="59" fill="#ff0000" />
<rect x="91" y="358" width="3" height="39" fill="#808080" />
<rect x="95" y="360" width="3" height="37" fill="#0000a6" />
<rect x="100" y="379" width="3" height="18" fill="#0000a6" />
<rect x="104" y="375" width="3" height="22" fill="#0000a6" />
<rect x="109" y="383" width="3" height="14" fill="#ff0000" />
<rect x="113" y="386" width="3" height="11" fill="#ff0000" />
<rect x="117" y="387" width="3" height="10" fill="#808080" />
<rect x="122" y="383" width="3" height="14" fill="#0000a6" />
<rect x="126" y="380" width="3" height="17" fill="#ff0000" />
<rect x="131" y="378" width="3" height="19" fill="#ff0000" />
<rect x="135" y="381" width="3" height="16" fill="#ff0000" />
<rect x="139" y="381" width="3" height="16" fill="#ff0000" />
<rect x="144" y="385" width="3" height="12" fill="#ff0000" />
<rect x="148" y="383" width="3" height="14" fill="#0000a6" />
<rect x="153" y="386" width="3" height="11" fill="#0000a6" />
<rect x="157" y="383" width="3" height="14" fill="#ff0000" />
<rect x="161" y="383" width="3" height="14" fill="#ff0000" />
<rect x="166" y="385" width="3" height="12" fill="#0000a6" />
<rect x="170" y="385" width="3" height="12" fill="#ff0000" />
<rect x="175" y="379" width="3" height="18" fill="#0000a6" />
<rect x="179" y="378" width="3" height="19" fill="#0000a6" />
<rect x="183" y="382" width="3" height="15" fill="#ff0000" />
<rect x="188" y="388" width="3" height="9" fill="#808080" />
<rect x="192" y="384" width="3" height="13" fill="#0000a6" />
<rect x="197" y="379" width="3" height="18" fill="#0000a6" />
<rect x="201" y="388" width="3" height="9" fill="#ff0000" />
<rect x="205" y="389" width="3" height="8" fill="#0000a6" />
<rect x="210" y="387" width="3" height="10" fill="#0000a6" />
<rect x="214" y="389" width="3" height="8" fill="#ff0000" />
<rect x="219" y="386" width="3" height="11" fill="#0000a6" />
<rect x="223" y="386" width="3" height="11" fill="#ff0000" />
<rect x="227" y="383" width="3" height="14" fill="#ff0000" />
<rect x="232" y="377" width="3" height="20" fill="#0000a6" />
<rect x="236" y="387" width="3" height="10" fill="#ff0000" />
<rect x="241" y="387" width="3" height="10" fill="#0000a6" />
<rect x="245" y="384" width="3" height="13" fill="#ff0000" />
<rect x="249" y="387" width="3" height="10" fill="#ff0000" />
<rect x="254" y="387" width="3" height="10" fill="#0000a6" />
<rect x="258" y="388" width="3" height="9" fill="#ff0000" />
<rect x="263" y="387" width="3" height="10" fill="#ff0000" />
<rect x="267" y="372" width="3" height="25" fill="#ff0000" />
<rect x="271" y="382" width="3" height="15" fill="#ff0000" />
<rect x="276" y="364" width="3" height="33" fill="#ff0000" />
<rect x="280" y="379" width="3" height="18" fill="#0000a6" />
<rect x="285" y="378" width="3" height="19" fill="#ff0000" />
<rect x="289" y="371" width="3" height="26" fill="#0000a6" />
<rect x="293" y="343" width="3" height="54" fill="#0000a6" />
<rect x="298" y="365" width="3" height="32" fill="#ff0000" />
<rect x="302" y="382" width="3" height="15" fill="#0000a6" />
<rect x="307" y="386" width="3" height="11" fill="#0000a6" />
<rect x="311" y="386" width="3" height="11" fill="#0000a6" />
<rect x="315" y="367" width="3" height="30" fill="#ff0000" />
<rect x="320" y="379" width="3" height="18" fill="#0000a6" />
<rect x="324" y="382" width="3" height="15" fill="#808080" />
<rect x="329" y="378" width="3" height="19" fill="#0000a6" />
<rect x="333" y="387" width="3" height="10" fill="#0000a6" />
<rect x="337" y="386" width="3" height="11" fill="#0000a6" />
<rect x="342" y="385" width="3" height="12" fill="#0000a6" />
<rect x="346" y="386" width="3" height="11" fill="#ff0000" />
<rect x="351" y="388" width="3" height="9" fill="#0000a6" />
<rect x="355" y="382" width="3" height="15" fill="#0000a6" />
<rect x="359" y="373" width="3" height="24" fill="#ff0000" />
<rect x="364" y="370" width="3" height="27" fill="#ff0000" />
<rect x="368" y="381" width="3" height="16" fill="#0000a6" />
<rect x="373" y="380" width="3" height="17" fill="#0000a6" />
<rect x="377" y="367" width="3" height="30" fill="#0000a6" />
<rect x="381" y="380" width="3" height="17" fill="#ff0000" />
<rect x="386" y="383" width="3" height="14" fill="#ff0000" />
<rect x="390" y="387" width="3" height="10" fill="#ff0000" />
<rect x="395" y="381" width="3" height="16" fill="#ff0000" />
<rect x="399" y="385" width="3" height="12" fill="#ff0000" />
<rect x="403" y="384" width="3" height="13" fill="#ff0000" />
<rect x="408" y="386" width="3" height="11" fill="#ff0000" />
<rect x="412" y="384" width="3" height="13" fill="#ff0000" />
<rect x="417" y="384" width="3" height="13" fill="#ff0000" />
<rect x="421" y="376" width="3" height="21" fill="#ff0000" />
<rect x="425" y="383" width="3" height="14" fill="#0000a6" />
<rect x="430" y="385" width="3" height="12" fill="#0000a6" />
<rect x="434" y="384" width="3" height="13" fill="#0000a6" />
<rect x="439" y="362" width="3" height="35" fill="#ff0000" />
<rect x="443" y="377" width="3" height="20" fill="#0000a6" />
<rect x="447" y="385" width="3" height="12" fill="#0000a6" />
<rect x="452" y="375" width="3" height="22" fill="#ff0000" />
<rect x="456" y="387" width="3" height="10" fill="#0000a6" />
<rect x="461" y="385" width="3" height="12" fill="#0000a6" />
<rect x="465" y="385" width="3" height="12" fill="#0000a6" />
<rect x="469" y="382" width="3" height="15" fill="#ff0000" />
<rect x="474" y="383" width="3" height="14" fill="#0000a6" />
<rect x="478" y="383" width="3" height="14" fill="#0000a6" />
<rect x="483" y="380" width="3" height="17" fill="#ff0000" />
<rect x="487" y="381" width="3" height="16" fill="#0000a6" />
<rect x="491" y="381" width="3" height="16" fill="#ff0000" />
<rect x="496" y="382" width="3" height="15" fill="#ff0000" />
<rect x="500" y="384" width="3" height="13" fill="#0000a6" />
<rect x="505" y="388" width="3" height="9" fill="#ff0000" />
<rect x="509" y="385" width="3" height="12" fill="#0000a6" />
<rect x="513" y="386" width="3" height="11" fill="#0000a6" />
<rect x="518" y="384" width="3" height="13" fill="#0000a6" />
<rect x="522" y="383" width="3" height="14" fill="#ff0000" />
<rect x="527" y="388" width="3" height="9" fill="#ff0000" />
<rect x="531" y="387" width="3" height="10" fill="#ff0000" />
<rect x="535" y="383" width="3" height="14" fill="#0000a6" />
<rect x="540" y="383" width="3" height="14" fill="#0000a6" />
<rect x="544" y="379" width="3" height="18" fill="#0000a6" />
<rect x="549" y="384" width="3" height="13" fill="#0000a6" />
<rect x="553" y="383" width="3" height="14" fill="#ff0000" />
<rect x="557" y="380" width="3" height="17" fill="#ff0000" />
<rect x="11" y="324" width="100" height="16" fill="#9c9c9c" />
<rect x="12" y="325" width="98" height="14" fill="#efefef" />
</g>
<text x="11.5" y="335.4" font-size="11.7" fill="#2c2c9c" text-anchor="start" font-weight="normal" textLength="34.9" lengthAdjust="spacingAndGlyphs" style='font-family:"Liberation Sans","Noto Sans CJK JP",sans-serif'>出来高</text>
<text x="57.6" y="335.4" font-size="12.1" fill="#2c2c9c" text-anchor="start" font-weight="normal" textLength="41.6" lengthAdjust="spacingAndGlyphs">86,300</text>
<text x="98.9" y="335.4" font-size="11.7" fill="#2c2c9c" text-anchor="start" font-weight="normal" style='font-family:"Liberation Sans","Noto Sans CJK JP",sans-serif'>株</text>
<text x="12.8" y="25.2" font-size="12.3" fill="#222" text-anchor="start" font-weight="normal" textLength="24.6" lengthAdjust="spacingAndGlyphs" style='font-family:"Liberation Sans","Noto Sans CJK JP",sans-serif'>日付</text>
<text x="41.4" y="24.3" font-size="14.8" fill="#1c1c1c" text-anchor="start" font-weight="normal" textLength="33.9" lengthAdjust="spacingAndGlyphs">2025</text>
<text x="81.4" y="24.3" font-size="14.8" fill="#1c1c1c" text-anchor="start" font-weight="normal" textLength="17.3" lengthAdjust="spacingAndGlyphs">09</text>
<text x="105.7" y="24.3" font-size="14.8" fill="#1c1c1c" text-anchor="start" font-weight="normal" textLength="17.3" lengthAdjust="spacingAndGlyphs">26</text>
<line x1="75.6" y1="25.8" x2="80.6" y2="12.9" stroke="#1c1c1c" stroke-width="1.25"/>
<line x1="99.8" y1="25.8" x2="104.9" y2="12.9" stroke="#1c1c1c" stroke-width="1.25"/>
<text x="159.2" y="25" font-size="12" fill="#222" text-anchor="start" font-weight="normal" textLength="24" lengthAdjust="spacingAndGlyphs" style='font-family:"Liberation Sans","Noto Sans CJK JP",sans-serif'>始値</text>
<text x="187.9" y="24.4" font-size="14" fill="#111" text-anchor="start" font-weight="bold" textLength="27" lengthAdjust="spacingAndGlyphs">929</text>
<text x="250.8" y="25" font-size="12" fill="#222" text-anchor="start" font-weight="normal" textLength="24" lengthAdjust="spacingAndGlyphs" style='font-family:"Liberation Sans","Noto Sans CJK JP",sans-serif'>高値</text>
<text x="279.4" y="24.4" font-size="14" fill="#ff0000" text-anchor="start" font-weight="bold" textLength="27.2" lengthAdjust="spacingAndGlyphs">942</text>
<text x="343.2" y="25" font-size="12" fill="#222" text-anchor="start" font-weight="normal" textLength="24" lengthAdjust="spacingAndGlyphs" style='font-family:"Liberation Sans","Noto Sans CJK JP",sans-serif'>安値</text>
<text x="371.1" y="24.4" font-size="14" fill="#0b6b0b" text-anchor="start" font-weight="bold" textLength="27.3" lengthAdjust="spacingAndGlyphs">929</text>
<text x="434.9" y="25" font-size="12" fill="#222" text-anchor="start" font-weight="normal" textLength="24" lengthAdjust="spacingAndGlyphs" style='font-family:"Liberation Sans","Noto Sans CJK JP",sans-serif'>終値</text>
<text x="463.6" y="24.4" font-size="14" fill="#111" text-anchor="start" font-weight="bold" textLength="27.3" lengthAdjust="spacingAndGlyphs">942</text>
<path d="M11.8,427.3L13.3,425.5L14.6,431.9L16.9,430.5L19.2,429.7L21.0,429.2L22.9,430.1L24.7,429.2L26.6,430.0L28.4,430.0L31.1,431.5L32.7,431.0L34.4,430.2L36.0,430.7L37.6,430.4L39.4,428.1L41.2,427.3L43.5,427.6L45.8,428.2L48.6,431.0L50.4,430.0L52.3,429.7L54.1,430.0L56.2,429.8L58.4,430.3L60.5,429.7L62.4,432.8L64.7,432.2L67.0,432.8L68.8,431.3L70.7,430.9L72.5,429.7L74.3,430.7L76.2,430.5L78.1,430.5L79.9,431.0L81.7,430.8L83.5,429.1L85.3,428.7L87.2,430.3L89.0,430.0L90.8,431.1L92.7,432.8L94.6,432.2L96.4,432.8L98.2,434.0L100.0,436.5L101.9,435.4L103.7,435.4L105.6,434.1L107.4,433.3L109.2,433.6L111.1,433.3L112.9,432.8L114.8,432.1L116.6,432.0L118.5,430.8L120.3,431.0L122.7,430.3L125.0,431.0L126.7,430.2L128.3,430.7L130.0,430.0L131.6,429.5L133.3,429.5L135.4,431.0L137.6,432.2L139.7,433.7L141.4,433.3L143.1,433.9L144.8,433.6L146.6,432.8L148.3,433.2L150.0,433.0L151.7,432.8L154.4,434.7L156.2,435.3L158.1,435.1L159.9,434.4L161.7,435.5L163.6,434.1L165.4,434.7L167.3,433.8L169.1,433.5L171.0,432.3L173.7,433.4L175.3,432.6L176.9,432.8L178.5,431.8L180.1,432.3L182.0,434.1L183.8,433.6L185.7,433.0L187.5,431.9L189.3,431.0L190.9,431.3L192.6,430.1L194.2,430.3L195.8,429.7L197.6,430.3L199.5,430.7L201.3,431.0L203.6,432.3L205.9,433.7L207.7,435.0L209.6,435.9L211.4,435.9L213.2,435.6L215.1,435.7L216.9,435.2L218.6,434.5L220.2,435.5L221.9,435.4L223.6,435.9L225.3,435.6L226.9,434.7L228.6,434.9L230.3,435.3L232.0,434.3L233.6,435.0L235.3,435.0L237.7,434.8L240.0,435.6L241.8,435.3L243.7,435.5L245.5,436.5L247.8,436.3L250.1,435.2L252.9,432.8L254.7,431.6L256.6,431.2L258.4,431.0L260.2,431.0L262.1,431.9L263.9,431.5L265.7,430.7L267.5,431.2L269.4,431.2L271.2,431.0L273.1,432.4L274.9,433.1L276.8,433.4L278.9,434.6L281.1,434.2L283.2,435.2L285.5,434.2L287.8,433.4L290.1,433.3L292.4,433.7L295.1,425.5L297.0,425.8L298.8,425.6L300.7,424.5L303.0,422.6L305.3,421.8L307.1,423.6L308.9,426.4L311.2,426.9L313.5,428.2L315.4,427.9L317.2,428.4L319.0,428.6L320.9,428.6L322.7,428.8L324.6,429.0L326.4,430.4L328.2,429.6L330.1,428.9L331.9,428.6L333.8,427.9L335.6,428.6L337.5,428.2L339.3,427.9L341.1,427.9L342.9,428.7L344.8,429.4L346.6,429.7L348.5,429.4L350.3,431.2L352.1,431.5L354.0,431.5L355.7,432.4L357.4,432.5L359.0,432.1L360.7,432.4L362.4,432.8L364.2,431.7L366.1,432.1L367.9,431.5L369.7,430.2L371.6,429.6L373.4,429.7L375.2,429.1L377.1,428.8L378.9,428.9L380.7,428.3L382.6,428.0L384.4,428.6L386.7,427.4L389.0,427.3L391.8,431.0L393.6,430.2L395.5,430.4L397.3,429.6L399.2,430.8L401.0,430.0L402.8,430.4L404.6,429.8L406.5,430.2L408.3,430.6L410.1,431.0L412.0,430.8L413.8,430.4L415.6,431.6L417.5,431.0L419.2,431.4L420.9,430.1L422.6,429.8L424.2,428.7L425.9,428.4L427.6,428.6L429.3,428.8L430.9,429.2L432.6,430.6L434.2,430.0L435.9,431.0L437.8,430.2L439.6,431.0L442.3,434.7L444.0,435.8L445.6,435.5L447.3,435.2L448.9,436.2L450.6,436.5L452.4,435.9L454.2,436.8L456.1,437.6L457.9,437.0L459.8,437.9L461.6,438.0L463.4,437.6L465.3,438.3L467.1,437.8L469.0,437.2L470.8,437.4L474.0,434.7L475.4,431.4L477.2,432.2L478.9,432.3L480.7,433.0L482.5,433.0L482.5,447L11,447L11,427.3Z" fill="#ececec"/>
<path d="M482.5,433.0L484.0,432.7L485.6,432.9L487.1,432.6L488.7,432.8L490.2,432.6L492.8,430.8L495.0,425.5L497.2,430.4L499.4,431.1L500.9,430.5L502.4,429.6L503.9,428.8L505.3,428.9L507.5,430.4L509.4,429.9L511.2,430.4L513.0,431.1L514.9,431.1L516.8,430.5L518.6,430.4L519.3,429.4L521.1,429.2L523.0,429.6L524.8,428.6L526.6,426.7L528.9,424.9L530.3,426.1L531.8,427.4L534.0,427.9L535.5,426.4L537.0,428.0L538.4,428.9L540.2,429.4L542.1,429.9L543.6,430.2L545.0,429.9L546.5,430.4L548.0,429.0L549.4,427.4L551.6,426.0L553.9,424.5L556.1,426.4L557.5,425.5L559.0,427.4L560.5,426.0L561.9,427.9L563.4,426.0L565.6,428.9L567.1,428.0L568.6,426.4L570.8,427.9L572.2,427.4L573.9,427.4L575.6,427.6L577.3,427.6L579.0,427.4L579,448L483,448Z" fill="#b9c5f7"/>
<path d="M11.8,427.3L13.3,425.5L14.6,431.9L16.9,430.5L19.2,429.7L21.0,429.2L22.9,430.1L24.7,429.2L26.6,430.0L28.4,430.0L31.1,431.5L32.7,431.0L34.4,430.2L36.0,430.7L37.6,430.4L39.4,428.1L41.2,427.3L43.5,427.6L45.8,428.2L48.6,431.0L50.4,430.0L52.3,429.7L54.1,430.0L56.2,429.8L58.4,430.3L60.5,429.7L62.4,432.8L64.7,432.2L67.0,432.8L68.8,431.3L70.7,430.9L72.5,429.7L74.3,430.7L76.2,430.5L78.1,430.5L79.9,431.0L81.7,430.8L83.5,429.1L85.3,428.7L87.2,430.3L89.0,430.0L90.8,431.1L92.7,432.8L94.6,432.2L96.4,432.8L98.2,434.0L100.0,436.5L101.9,435.4L103.7,435.4L105.6,434.1L107.4,433.3L109.2,433.6L111.1,433.3L112.9,432.8L114.8,432.1L116.6,432.0L118.5,430.8L120.3,431.0L122.7,430.3L125.0,431.0L126.7,430.2L128.3,430.7L130.0,430.0L131.6,429.5L133.3,429.5L135.4,431.0L137.6,432.2L139.7,433.7L141.4,433.3L143.1,433.9L144.8,433.6L146.6,432.8L148.3,433.2L150.0,433.0L151.7,432.8L154.4,434.7L156.2,435.3L158.1,435.1L159.9,434.4L161.7,435.5L163.6,434.1L165.4,434.7L167.3,433.8L169.1,433.5L171.0,432.3L173.7,433.4L175.3,432.6L176.9,432.8L178.5,431.8L180.1,432.3L182.0,434.1L183.8,433.6L185.7,433.0L187.5,431.9L189.3,431.0L190.9,431.3L192.6,430.1L194.2,430.3L195.8,429.7L197.6,430.3L199.5,430.7L201.3,431.0L203.6,432.3L205.9,433.7L207.7,435.0L209.6,435.9L211.4,435.9L213.2,435.6L215.1,435.7L216.9,435.2L218.6,434.5L220.2,435.5L221.9,435.4L223.6,435.9L225.3,435.6L226.9,434.7L228.6,434.9L230.3,435.3L232.0,434.3L233.6,435.0L235.3,435.0L237.7,434.8L240.0,435.6L241.8,435.3L243.7,435.5L245.5,436.5L247.8,436.3L250.1,435.2L252.9,432.8L254.7,431.6L256.6,431.2L258.4,431.0L260.2,431.0L262.1,431.9L263.9,431.5L265.7,430.7L267.5,431.2L269.4,431.2L271.2,431.0L273.1,432.4L274.9,433.1L276.8,433.4L278.9,434.6L281.1,434.2L283.2,435.2L285.5,434.2L287.8,433.4L290.1,433.3L292.4,433.7L295.1,425.5L297.0,425.8L298.8,425.6L300.7,424.5L303.0,422.6L305.3,421.8L307.1,423.6L308.9,426.4L311.2,426.9L313.5,428.2L315.4,427.9L317.2,428.4L319.0,428.6L320.9,428.6L322.7,428.8L324.6,429.0L326.4,430.4L328.2,429.6L330.1,428.9L331.9,428.6L333.8,427.9L335.6,428.6L337.5,428.2L339.3,427.9L341.1,427.9L342.9,428.7L344.8,429.4L346.6,429.7L348.5,429.4L350.3,431.2L352.1,431.5L354.0,431.5L355.7,432.4L357.4,432.5L359.0,432.1L360.7,432.4L362.4,432.8L364.2,431.7L366.1,432.1L367.9,431.5L369.7,430.2L371.6,429.6L373.4,429.7L375.2,429.1L377.1,428.8L378.9,428.9L380.7,428.3L382.6,428.0L384.4,428.6L386.7,427.4L389.0,427.3L391.8,431.0L393.6,430.2L395.5,430.4L397.3,429.6L399.2,430.8L401.0,430.0L402.8,430.4L404.6,429.8L406.5,430.2L408.3,430.6L410.1,431.0L412.0,430.8L413.8,430.4L415.6,431.6L417.5,431.0L419.2,431.4L420.9,430.1L422.6,429.8L424.2,428.7L425.9,428.4L427.6,428.6L429.3,428.8L430.9,429.2L432.6,430.6L434.2,430.0L435.9,431.0L437.8,430.2L439.6,431.0L442.3,434.7L444.0,435.8L445.6,435.5L447.3,435.2L448.9,436.2L450.6,436.5L452.4,435.9L454.2,436.8L456.1,437.6L457.9,437.0L459.8,437.9L461.6,438.0L463.4,437.6L465.3,438.3L467.1,437.8L469.0,437.2L470.8,437.4L474.0,434.7L475.4,431.4L477.2,432.2L478.9,432.3L480.7,433.0L482.5,433.0" fill="none" stroke="#909090" stroke-width="1.25"/>
<path d="M482.5,433.0L484.0,432.7L485.6,432.9L487.1,432.6L488.7,432.8L490.2,432.6L492.8,430.8L495.0,425.5L497.2,430.4L499.4,431.1L500.9,430.5L502.4,429.6L503.9,428.8L505.3,428.9L507.5,430.4L509.4,429.9L511.2,430.4L513.0,431.1L514.9,431.1L516.8,430.5L518.6,430.4L519.3,429.4L521.1,429.2L523.0,429.6L524.8,428.6L526.6,426.7L528.9,424.9L530.3,426.1L531.8,427.4L534.0,427.9L535.5,426.4L537.0,428.0L538.4,428.9L540.2,429.4L542.1,429.9L543.6,430.2L545.0,429.9L546.5,430.4L548.0,429.0L549.4,427.4L551.6,426.0L553.9,424.5L556.1,426.4L557.5,425.5L559.0,427.4L560.5,426.0L561.9,427.9L563.4,426.0L565.6,428.9L567.1,428.0L568.6,426.4L570.8,427.9L572.2,427.4L573.9,427.4L575.6,427.6L577.3,427.6L579.0,427.4" fill="none" stroke="#6060bb" stroke-width="1.15"/>
<g shape-rendering="crispEdges">
<rect x="62" y="434" width="14" height="13" fill="#fff" />
<rect x="250.8" y="434" width="14" height="13" fill="#fff" />
<rect x="439.7" y="434" width="14" height="13" fill="#fff" />
</g>
<text x="63.3" y="443.8" font-size="10.4" fill="#222" text-anchor="start" font-weight="normal" textLength="11.6" lengthAdjust="spacingAndGlyphs">23</text>
<text x="252" y="443.8" font-size="10.4" fill="#222" text-anchor="start" font-weight="normal" textLength="11.6" lengthAdjust="spacingAndGlyphs">24</text>
<text x="441" y="443.8" font-size="10.4" fill="#222" text-anchor="start" font-weight="normal" textLength="11.6" lengthAdjust="spacingAndGlyphs">25</text>
<g shape-rendering="crispEdges">
<rect x="482" y="411" width="1" height="38" fill="#10a0e0" />
<rect x="579" y="411" width="1" height="38" fill="#10a0e0" />
<rect x="10" y="448" width="570" height="1" fill="#000" />
<rect x="11" y="449" width="568" height="10" fill="url(#trk)" />
<rect x="490" y="449" width="82" height="10" fill="#000" />
<rect x="491" y="449" width="80" height="10" fill="url(#thm)" />
<rect x="579" y="449" width="1" height="10" fill="#000" />
<rect x="476" y="415" width="14" height="30" fill="#000" />
<rect x="477" y="416" width="12" height="28" fill="url(#hnd)" />
<rect x="572" y="415" width="14" height="30" fill="#000" />
<rect x="573" y="416" width="12" height="28" fill="url(#hnd)" />
</g>
<path d="M480.3,429 L485.5,424.8 L485.5,433.2Z" fill="#000"/>
<path d="M581.7,429 L576.5,424.8 L576.5,433.2Z" fill="#000"/>
</svg>
</body></html>
